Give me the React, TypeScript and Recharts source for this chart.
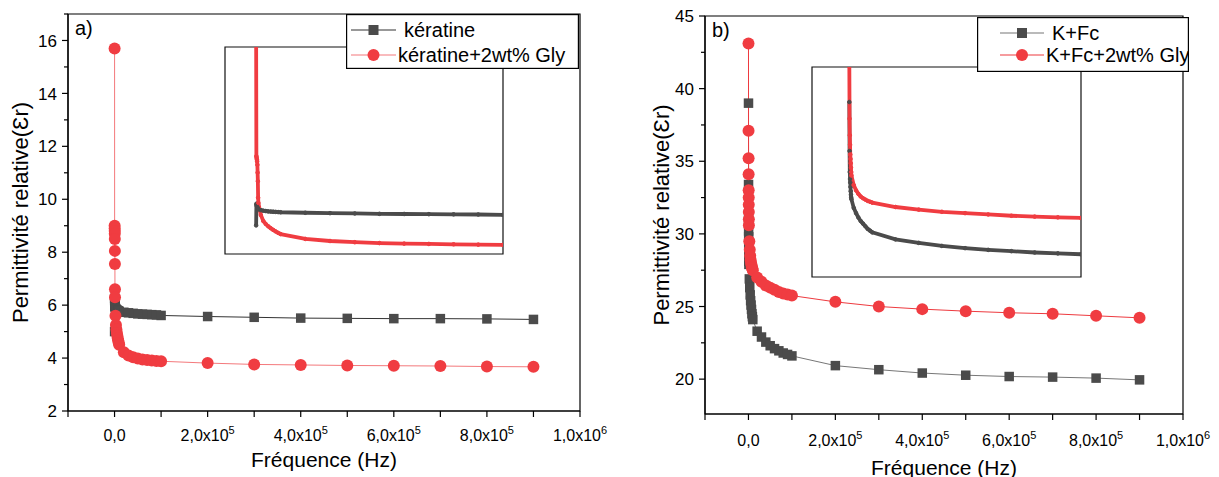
import React from "react";
import { LineChart, Line, XAxis, YAxis, ReferenceArea } from "recharts";

const FONT = '"Liberation Sans", Arial, Helvetica, sans-serif';

// fréquences de mesure (Hz), communes aux quatre échantillons
const freqHz = [
  100, 200, 300, 400, 500, 600, 700, 800, 900,
  1000, 2000, 3000, 4000, 5000, 6000, 7000, 8000, 9000,
  10000, 20000, 30000, 40000, 50000, 60000, 70000, 80000, 90000,
  100000, 200000, 300000, 400000, 500000, 600000, 700000, 800000, 900000,
];

// a) kératine
const keratine = [
  5.0, 6.25, 6.18, 6.12, 6.07, 6.03, 6.0, 5.97, 5.95,
  5.93, 5.88, 5.85, 5.83, 5.81, 5.8, 5.79, 5.78, 5.77,
  5.76, 5.73, 5.71, 5.69, 5.67, 5.66, 5.65, 5.64, 5.63,
  5.61, 5.57, 5.54, 5.51, 5.5, 5.49, 5.49, 5.48, 5.46,
];
const keratineGly = [
  15.7, 9.0, 8.9, 8.8, 8.7, 8.5, 8.05, 7.55, 6.6,
  6.3, 5.6, 5.25, 5.08, 4.95, 4.84, 4.74, 4.65, 4.57,
  4.5, 4.22, 4.1, 4.03, 3.98, 3.95, 3.93, 3.91, 3.89,
  3.88, 3.81, 3.76, 3.74, 3.72, 3.71, 3.7, 3.68, 3.67,
];

// b) K+Fc
const kFc = [
  39.0, 33.4, 31.0, 30.2, 29.8, 29.3, 28.8, 28.4, 28.1,
  27.9, 26.9, 26.3, 25.8, 25.4, 25.1, 24.8, 24.5, 24.3,
  24.1, 23.3, 22.9, 22.55, 22.3, 22.1, 21.95, 21.8, 21.7,
  21.6, 20.93, 20.65, 20.42, 20.27, 20.18, 20.14, 20.07, 19.95,
];
const kFcGly = [
  43.1, 37.1, 35.2, 34.1, 33.0, 32.5, 32.0, 31.5, 31.0,
  30.6, 29.5, 28.9, 28.5, 28.2, 28.0, 27.85, 27.7, 27.6,
  27.5, 27.0, 26.7, 26.45, 26.3, 26.15, 26.0, 25.9, 25.82,
  25.75, 25.32, 25.0, 24.82, 24.68, 24.57, 24.5, 24.36, 24.22,
];

const xTicks = [
  -100000, 0, 100000, 200000, 300000, 400000, 500000, 600000, 700000, 800000, 900000, 1000000,
];
const yTicksA = [2, 3, 4, 5, 6, 7, 8, 9, 10, 11, 12, 13, 14, 15, 16, 17];
const yTicksB = [20, 22.5, 25, 27.5, 30, 32.5, 35, 37.5, 40, 42.5, 45];

const GREY = "#4b4b4b";
const RED = "#f03c41";

type Series = {
  key: string;
  name: string;
  color: string;
  lineColor: string;
  shape: "square" | "circle";
};

const seriesA: Series[] = [
  { key: "s1", name: "kératine", color: GREY, lineColor: "#333", shape: "square" },
  { key: "s2", name: "kératine+2wt% Gly", color: RED, lineColor: "#f4797c", shape: "circle" },
];
const seriesB: Series[] = [
  { key: "s1", name: "K+Fc", color: GREY, lineColor: "#777", shape: "square" },
  { key: "s2", name: "K+Fc+2wt% Gly", color: RED, lineColor: "#ee3a3f", shape: "circle" },
];

const rowsA = freqHz.map((f, i) => ({ f, s1: keratine[i], s2: keratineGly[i] }));
const rowsB = freqHz.map((f, i) => ({ f, s1: kFc[i], s2: kFcGly[i] }));

const markerDot = (shape: string, color: string, size: number) => (props: any) => {
  const { cx, cy, index } = props;
  if (cx == null || cy == null) return <g key={index} />;
  if (shape === "square")
    return <rect key={index} x={cx - size / 2} y={cy - size / 2} width={size} height={size} fill={color} />;
  return <circle key={index} cx={cx} cy={cy} r={size / 2} fill={color} />;
};

const XTick = (props: any) => {
  const { x, y, payload, labelDy } = props;
  const v = payload.value as number;
  let label: React.ReactNode = null;
  if (v === 0) {
    label = (
      <text x={x} y={y + labelDy} textAnchor="middle" fontSize={16} fontFamily={FONT} fill="#000">
        0,0
      </text>
    );
  } else if (v > 0 && v % 200000 === 0) {
    const exp = Math.floor(Math.log10(v) + 1e-9);
    const mant = (v / Math.pow(10, exp)).toFixed(1).replace(".", ",");
    label = (
      <text x={x} y={y + labelDy} textAnchor="middle" fontSize={16} fontFamily={FONT} fill="#000">
        <tspan>{mant}x10</tspan>
        <tspan dy={-7} fontSize={11}>{exp}</tspan>
      </text>
    );
  }
  return (
    <g>
      <line x1={x} x2={x} y1={y} y2={y + 6} stroke="#000" strokeWidth={1.2} />
      {label}
    </g>
  );
};

const YTick = (props: any) => {
  const { x, y, payload, major } = props;
  const v = payload.value as number;
  const isMajor = Math.abs(v / major - Math.round(v / major)) < 1e-6;
  return (
    <g>
      <line x1={x - (isMajor ? 6 : 4)} x2={x} y1={y} y2={y} stroke="#000" strokeWidth={1.2} />
      {isMajor && (
        <text x={x - 11} y={y} dy="0.36em" textAnchor="end" fontSize={17} fontFamily={FONT} fill="#000">
          {v}
        </text>
      )}
    </g>
  );
};

const YTitle = (props: any) => {
  const { cx, cy } = props;
  return (
    <text
      x={cx}
      y={cy}
      transform={`rotate(-90 ${cx} ${cy})`}
      textAnchor="middle"
      dominantBaseline="central"
      fontSize={22}
      fontFamily={FONT}
      fill="#000"
    >
      Permittivité relative(Ɛr)
    </text>
  );
};

const XTitle = (props: any) => {
  const { cx, cy } = props;
  return (
    <text x={cx} y={cy} textAnchor="middle" dominantBaseline="central" fontSize={21} fontFamily={FONT} fill="#000">
      Fréquence (Hz)
    </text>
  );
};

type LegendProps = {
  series: Series[];
  left: number;
  top: number;
  width: number;
  height: number;
  rowY: number[];
  lineX: [number, number];
  textX: number[];
};

const LegendBox = ({ series, left, top, width, height, rowY, lineX, textX }: LegendProps) => (
  <svg style={{ position: "absolute", left, top }} width={width} height={height}>
    <rect x={0.6} y={0.6} width={width - 1.2} height={height - 1.2} fill="#fff" stroke="#000" strokeWidth={1.2} />
    {series.map((s, i) => {
      const mx = (lineX[0] + lineX[1]) / 2;
      return (
        <g key={s.key}>
          <line x1={lineX[0]} x2={lineX[1]} y1={rowY[i]} y2={rowY[i]} stroke={s.lineColor} strokeWidth={1.2} />
          {markerDot(s.shape, s.color, s.shape === "square" ? 10 : 12)({ cx: mx, cy: rowY[i], index: i })}
          <text x={textX[i]} y={rowY[i]} dy="0.36em" fontSize={20} fontFamily={FONT} fill="#000">
            {s.name}
          </text>
        </g>
      );
    })}
  </svg>
);

type InsetProps = {
  rows: any[];
  series: Series[];
  left: number;
  top: number;
  width: number;
  height: number;
  xDomain: [number, number];
  yDomain: [number, number];
};

const Inset = ({ rows, series, left, top, width, height, xDomain, yDomain }: InsetProps) => (
  <div style={{ position: "absolute", left: left - 1, top: top - 1 }}>
    <LineChart width={width + 2} height={height + 2} data={rows} margin={{ top: 1, right: 1, bottom: 1, left: 1 }}>
      <XAxis dataKey="f" type="number" domain={xDomain} allowDataOverflow hide />
      <YAxis type="number" domain={yDomain} allowDataOverflow hide />
      <ReferenceArea
        x1={xDomain[0]}
        x2={xDomain[1]}
        y1={yDomain[0]}
        y2={yDomain[1]}
        fill="none"
        stroke="#111"
        strokeWidth={1.2}
      />
      {series.map((s) => (
        <Line
          key={s.key}
          dataKey={s.key}
          stroke={s.color}
          strokeWidth={3.8}
          dot={{ r: 1.8, fill: s.color, stroke: s.color, strokeWidth: 1 }}
          activeDot={false}
          isAnimationActive={false}
        />
      ))}
    </LineChart>
  </div>
);

type PanelProps = {
  rows: any[];
  series: Series[];
  left: number;
  width: number;
  height: number;
  margin: { top: number; right: number; bottom: number; left: number };
  yWidth: number;
  xHeight: number;
  yDomain: [number, number];
  yTicks: number[];
  yMajor: number;
  tag: string;
  yTitleX: number;
  xTitleY: number;
  xLabelDy: number;
};

const Panel = (p: PanelProps) => {
  const plotLeft = p.margin.left + p.yWidth;
  const plotRight = p.width - p.margin.right;
  const plotTop = p.margin.top;
  const plotBottom = p.height - p.margin.bottom - p.xHeight;
  return (
    <div style={{ position: "absolute", left: p.left, top: 0 }}>
      <LineChart width={p.width} height={p.height} data={p.rows} margin={p.margin}>
        <XAxis
          dataKey="f"
          type="number"
          domain={[-100000, 1000000]}
          ticks={xTicks}
          interval={0}
          allowDataOverflow
          height={p.xHeight}
          tickSize={0}
          tickMargin={0}
          tickLine={false}
          axisLine={{ stroke: "#000", strokeWidth: 1.2 }}
          tick={(t: any) => <XTick {...t} labelDy={p.xLabelDy} />}
          label={<XTitle cx={(plotLeft + plotRight) / 2} cy={p.xTitleY} />}
        />
        <YAxis
          type="number"
          domain={p.yDomain}
          ticks={p.yTicks}
          interval={0}
          allowDataOverflow
          width={p.yWidth}
          tickSize={0}
          tickMargin={0}
          tickLine={false}
          axisLine={{ stroke: "#000", strokeWidth: 1.2 }}
          tick={(t: any) => <YTick {...t} major={p.yMajor} />}
          label={<YTitle cx={p.yTitleX} cy={(plotTop + plotBottom) / 2} />}
        />
        <ReferenceArea
          x1={-100000}
          x2={1000000}
          y1={p.yDomain[0]}
          y2={p.yDomain[1]}
          fill="none"
          stroke="#000"
          strokeWidth={1.2}
          label={{ value: p.tag, position: "insideTopLeft", offset: 7, fontSize: 20, fontFamily: FONT, fill: "#000" }}
        />
        {p.series.map((s) => (
          <Line
            key={s.key}
            dataKey={s.key}
            stroke={s.lineColor}
            strokeWidth={1}
            dot={markerDot(s.shape, s.color, s.shape === "square" ? 9.5 : 12)}
            activeDot={false}
            isAnimationActive={false}
          />
        ))}
      </LineChart>
    </div>
  );
};

export default function App() {
  return (
    <div style={{ position: "absolute", left: 0, top: 0, width: 1219, height: 477, background: "#fff", overflow: "hidden" }}>
      <Panel
        rows={rowsA}
        series={seriesA}
        left={0}
        width={610}
        height={477}
        margin={{ top: 14, right: 30, bottom: 0, left: 0 }}
        yWidth={68}
        xHeight={66}
        yDomain={[2, 17]}
        yTicks={yTicksA}
        yMajor={2}
        tag="a)"
        yTitleX={20}
        xTitleY={459}
        xLabelDy={30}
      />
      <Inset rows={rowsA} series={seriesA} left={225} top={47} width={278} height={207} xDomain={[-12500, 100000]} yDomain={[3.35, 15.3]} />
      <LegendBox series={seriesA} left={346} top={14} width={233} height={55} rowY={[16, 41]} lineX={[5, 50]} textX={[58, 52]} />

      <Panel
        rows={rowsB}
        series={seriesB}
        left={610}
        width={609}
        height={477}
        margin={{ top: 16, right: 36, bottom: 0, left: 0 }}
        yWidth={95}
        xHeight={63}
        yDomain={[17.6, 45]}
        yTicks={yTicksB}
        yMajor={5}
        tag="b)"
        yTitleX={51}
        xTitleY={467}
        xLabelDy={32}
      />
      <Inset rows={rowsB} series={seriesB} left={812} top={67} width={269} height={210} xDomain={[-16000, 100000]} yDomain={[19, 43]} />
      <LegendBox series={seriesB} left={977} top={17} width={212} height={55} rowY={[16, 38]} lineX={[23, 67]} textX={[75, 69]} />
    </div>
  );
}
